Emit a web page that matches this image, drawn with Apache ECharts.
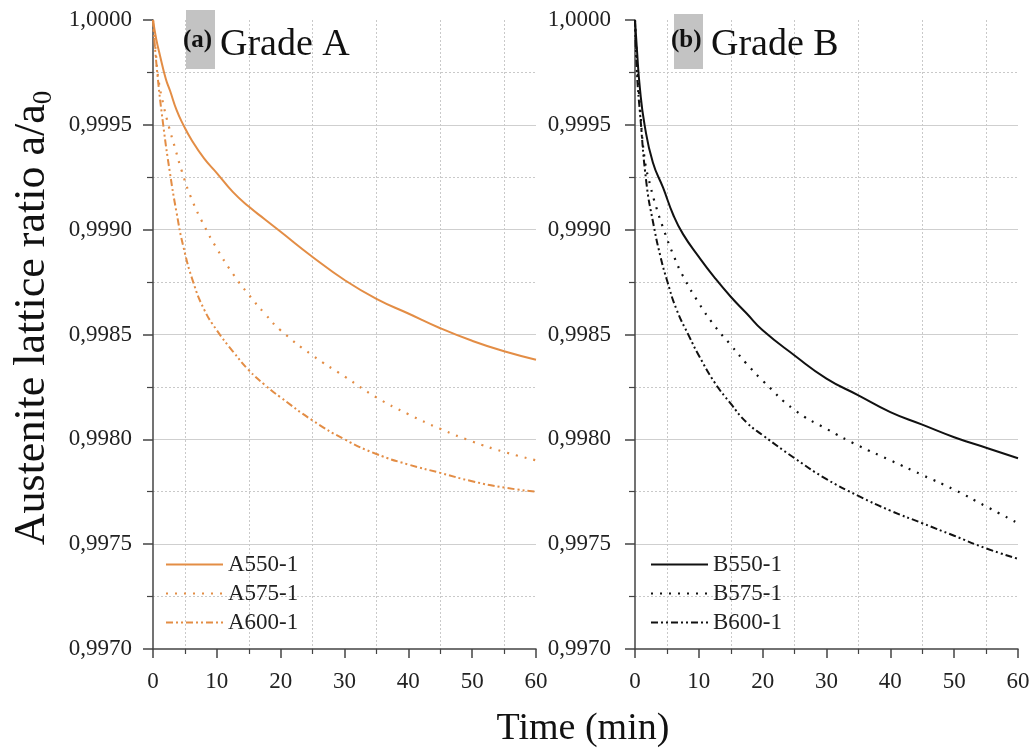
<!DOCTYPE html>
<html>
<head>
<meta charset="utf-8">
<script src="https://cdn.jsdelivr.net/npm/echarts@6/dist/echarts.min.js"></script>
<style>html,body{margin:0;padding:0;background:#fff}#c{width:1036px;height:752px}</style>
</head>
<body>
<div id="c"></div>
<script>
// ---------- data ----------
var xTicks = [0, 10, 20, 30, 40, 50, 60];
var yTicks = ['1,0000', '0,9995', '0,9990', '0,9985', '0,9980', '0,9975', '0,9970'];

var namesA = ['A550-1', 'A575-1', 'A600-1'];
var namesB = ['B550-1', 'B575-1', 'B600-1'];

var tA550 = [0, 0.5, 1.1, 2, 2.7, 3.7, 4.75, 6, 8, 10, 12.5, 15, 17.5, 20, 25, 30, 35, 40, 45, 50, 55, 60];
var vA550 = [1.0, 0.99991, 0.99983, 0.99972, 0.99966, 0.99957, 0.9995, 0.99943, 0.99934, 0.99927, 0.99918, 0.99911, 0.99905, 0.99899, 0.99887, 0.99876, 0.99867, 0.9986, 0.99853, 0.99847, 0.99842, 0.99838];

var tA575 = [0, 0.4, 0.84, 1.6, 2.5, 3.45, 4.5, 6, 8, 10, 12.5, 15, 17.5, 20, 25, 30, 35, 40, 45, 50, 55, 60];
var vA575 = [1.0, 0.99986, 0.99972, 0.9996, 0.99949, 0.99939, 0.99928, 0.99915, 0.99902, 0.99891, 0.99879, 0.99869, 0.9986, 0.99852, 0.9984, 0.9983, 0.9982, 0.99812, 0.99805, 0.99799, 0.99794, 0.9979];

var tA600 = [0, 0.6, 1.6, 2.66, 3.7, 4.75, 6.3, 8, 10, 12.5, 15, 17.5, 20, 25, 30, 35, 40, 45, 50, 55, 60];
var vA600 = [1.0, 0.99977, 0.9995, 0.99927, 0.99908, 0.99892, 0.99875, 0.99862, 0.99852, 0.99842, 0.99833, 0.99826, 0.9982, 0.99809, 0.998, 0.99793, 0.99788, 0.99784, 0.9978, 0.99777, 0.99775];

var tB550 = [0, 0.3, 0.75, 1.5, 2.8, 4.4, 6, 7.5, 10, 12.5, 15, 17.5, 20, 25, 30, 35, 40, 45, 50, 55, 60];
var vB550 = [1.0, 0.99986, 0.99968, 0.9995, 0.99932, 0.9992, 0.99907, 0.99898, 0.99887, 0.99877, 0.99868, 0.9986, 0.99852, 0.9984, 0.99829, 0.99821, 0.99813, 0.99807, 0.99801, 0.99796, 0.99791];

var tB575 = [0, 0.3, 0.8, 1.5, 2.4, 3.3, 4.5, 6, 7.5, 10, 12.5, 15, 17.5, 20, 25, 30, 35, 40, 45, 50, 55, 60];
var vB575 = [1.0, 0.99982, 0.99958, 0.99934, 0.99921, 0.99911, 0.999, 0.99888, 0.99878, 0.99865, 0.99854, 0.99845, 0.99836, 0.99828, 0.99814, 0.99805, 0.99797, 0.9979, 0.99783, 0.99776, 0.99768, 0.9976];

var tB600 = [0, 0.3, 0.8, 1.8, 2.8, 4, 5, 6.5, 8.5, 10, 12.5, 15, 17.5, 20, 25, 30, 35, 40, 45, 50, 55, 60];
var vB600 = [1.0, 0.99975, 0.99955, 0.99922, 0.99904, 0.99887, 0.99876, 0.99862, 0.99849, 0.9984, 0.99827, 0.99817, 0.99808, 0.99802, 0.99791, 0.99781, 0.99773, 0.99766, 0.9976, 0.99754, 0.99748, 0.99743];

// ---------- chart ----------
var SERIF = '"Liberation Serif", "Times New Roman", serif';
var ORANGE = '#E38D45';
function pairs(t, v) { return t.map(function (x, i) { return [x, v[i]]; }); }

function xAxis(gi) {
  return {
    type: 'value', gridIndex: gi, min: 0, max: 60, interval: 10,
    axisLine: { show: true, onZero: false, lineStyle: { color: '#444', width: 1.5 } },
    axisTick: { show: true, length: 9, lineStyle: { color: '#444', width: 1.5 } },
    minorTick: { show: true, splitNumber: 2, length: 5, lineStyle: { color: '#444', width: 1.2 } },
    splitLine: { show: false },
    minorSplitLine: { show: true, lineStyle: { color: '#c9c9c9', width: 1, type: [2, 2] } },
    axisLabel: { margin: 21, fontFamily: SERIF, fontSize: 23, color: '#222',
      formatter: function (v) { return String(xTicks[Math.round(v / 10)]); } }
  };
}
function yAxis(gi, margin) {
  return {
    type: 'value', gridIndex: gi, min: 0.997, max: 1.0, interval: 0.0005,
    axisLine: { show: true, lineStyle: { color: '#444', width: 1.5 } },
    axisTick: { show: true, length: 10, lineStyle: { color: '#444', width: 1.5 } },
    minorTick: { show: true, splitNumber: 2, length: 6, lineStyle: { color: '#444', width: 1.2 } },
    splitLine: { show: true, showMaxLine: false, showMinLine: false, lineStyle: { color: '#cfcfcf', width: 1.2 } },
    minorSplitLine: { show: true, lineStyle: { color: '#c9c9c9', width: 1, type: [2, 2] } },
    axisLabel: { margin: margin, fontFamily: SERIF, fontSize: 23, color: '#222',
      formatter: function (v) { return yTicks[Math.round((1.0 - v) / 0.0005)]; } }
  };
}
function line(name, t, v, gi, color, type, width) {
  return {
    name: name, type: 'line', xAxisIndex: gi, yAxisIndex: gi,
    data: pairs(t, v), showSymbol: false, symbol: 'none', smooth: 0.5,
    lineStyle: { color: color, width: width, type: type }, itemStyle: { color: color },
    z: 5
  };
}
var legendCommon = {
  orient: 'vertical', itemWidth: 57, itemHeight: 14, itemGap: 6,
  itemStyle: { color: 'rgba(0,0,0,0)', borderColor: 'rgba(0,0,0,0)', borderWidth: 0 },
  textStyle: { fontFamily: SERIF, fontSize: 23, color: '#222' }
};

var chart = echarts.init(document.getElementById('c'), null, { renderer: 'canvas' });
chart.setOption({
  backgroundColor: '#fff',
  animation: false,
  grid: [
    { left: 153, top: 20, width: 383, height: 629, outerBoundsMode: 'none' },
    { left: 635, top: 20, width: 383, height: 629, outerBoundsMode: 'none' }
  ],
  xAxis: [xAxis(0), xAxis(1)],
  yAxis: [yAxis(0, 21), yAxis(1, 24)],
  legend: [
    Object.assign({ data: namesA, left: 160, top: 548 }, legendCommon),
    Object.assign({ data: namesB, left: 645, top: 548 }, legendCommon)
  ],
  series: [
    line(namesA[0], tA550, vA550, 0, ORANGE, 'solid', 2),
    line(namesA[1], tA575, vA575, 0, ORANGE, [2, 7], 2.2),
    line(namesA[2], tA600, vA600, 0, ORANGE, [7, 3, 2, 3, 2, 3], 2),
    line(namesB[0], tB550, vB550, 1, '#111', 'solid', 2),
    line(namesB[1], tB575, vB575, 1, '#111', [2, 7], 2.2),
    line(namesB[2], tB600, vB600, 1, '#111', [7, 3, 2, 3, 2, 3], 2)
  ],
  graphic: [
    { type: 'rect', shape: { x: 186, y: 10, width: 29, height: 59 }, style: { fill: '#C3C3C3' }, z: 1 },
    { type: 'text', x: 183, y: 41, z: 2, style: { text: '(a)', font: 'bold 25px ' + SERIF, fill: '#111', verticalAlign: 'middle', textVerticalAlign: 'middle' } },
    { type: 'text', x: 220, y: 45, z: 2, style: { text: 'Grade A', font: '38px ' + SERIF, fill: '#111', verticalAlign: 'middle', textVerticalAlign: 'middle' } },
    { type: 'rect', shape: { x: 674, y: 14, width: 29, height: 55 }, style: { fill: '#C3C3C3' }, z: 1 },
    { type: 'text', x: 671, y: 41, z: 2, style: { text: '(b)', font: 'bold 25px ' + SERIF, fill: '#111', verticalAlign: 'middle', textVerticalAlign: 'middle' } },
    { type: 'text', x: 711, y: 45, z: 2, style: { text: 'Grade B', font: '38px ' + SERIF, fill: '#111', verticalAlign: 'middle', textVerticalAlign: 'middle' } },
    { type: 'text', x: 583, y: 729, z: 2, style: { text: 'Time (min)', font: '38px ' + SERIF, fill: '#111', align: 'center', textAlign: 'center', verticalAlign: 'middle', textVerticalAlign: 'middle' } },
    { type: 'text', x: 32, y: 318, rotation: Math.PI / 2, z: 2,
      style: { text: 'Austenite lattice ratio a/a{sub|0}', font: '44px ' + SERIF, fill: '#111',
        align: 'center', textAlign: 'center', verticalAlign: 'middle', textVerticalAlign: 'middle',
        rich: { sub: { fontSize: 27, fontFamily: SERIF, fill: '#111', color: '#111', padding: [23, 0, 0, 0] } } } }
  ]
});
</script>
</body>
</html>
